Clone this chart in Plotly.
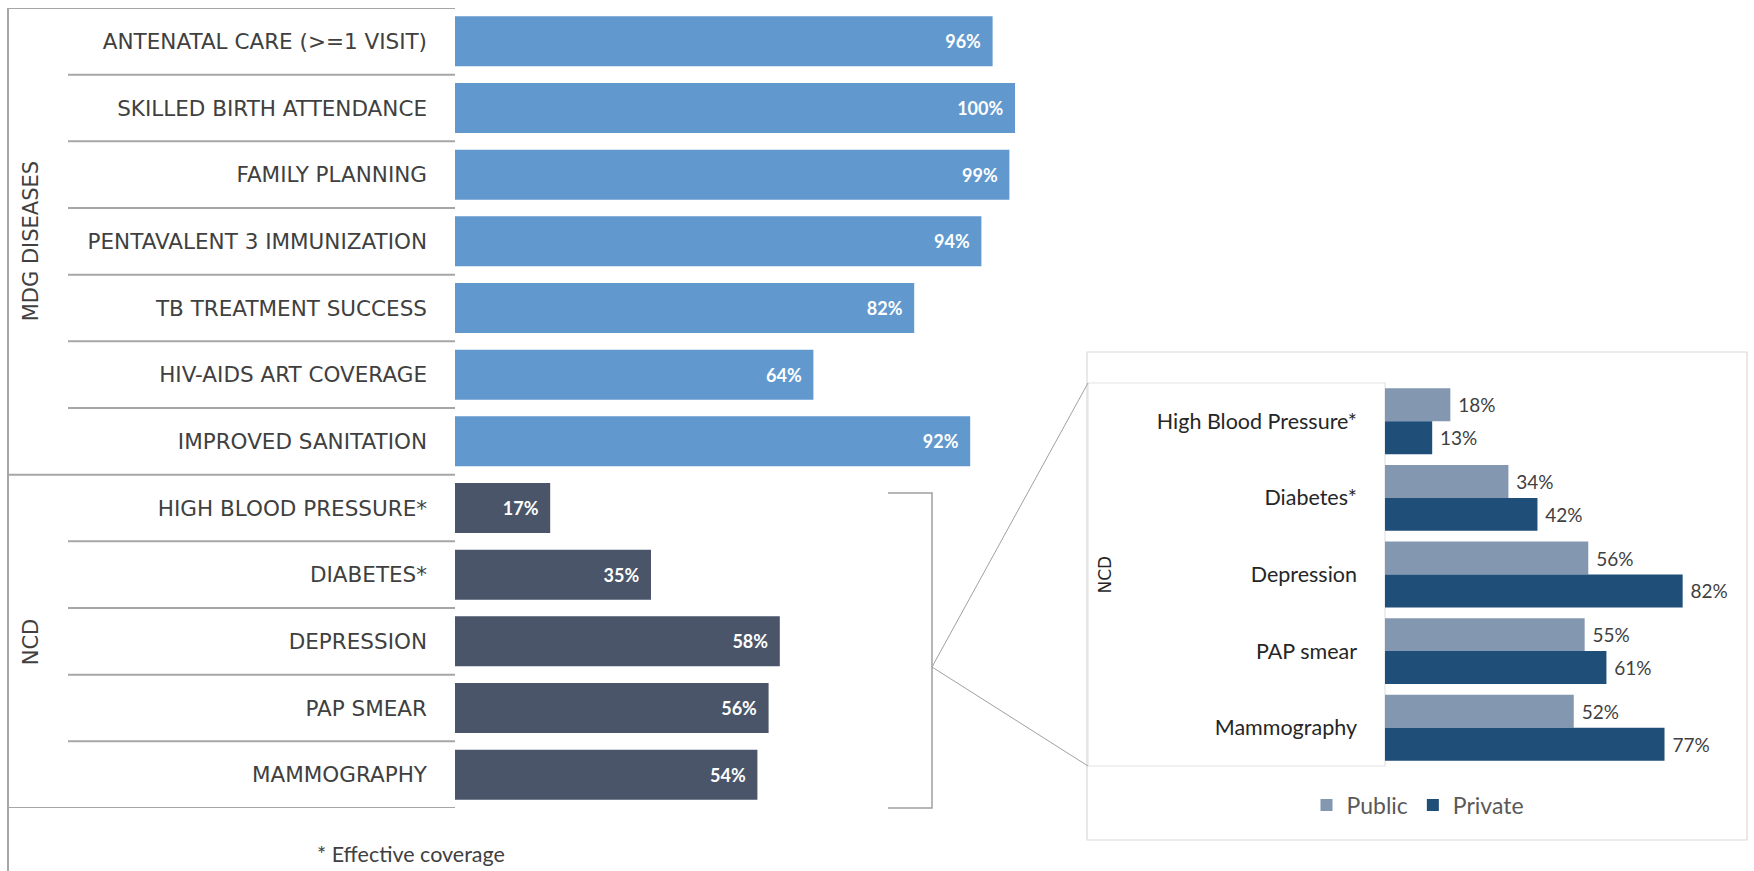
import plotly.graph_objects as go

W, H = 1754, 871

# ---------------- data ----------------
mdg_labels = ["ANTENATAL CARE (>=1 VISIT)", "SKILLED BIRTH ATTENDANCE", "FAMILY PLANNING",
              "PENTAVALENT 3 IMMUNIZATION", "TB TREATMENT SUCCESS", "HIV-AIDS ART COVERAGE",
              "IMPROVED SANITATION"]
mdg_values = [96, 100, 99, 94, 82, 64, 92]
ncd_labels = ["HIGH BLOOD PRESSURE*", "DIABETES*", "DEPRESSION", "PAP SMEAR", "MAMMOGRAPHY"]
ncd_values = [17, 35, 58, 56, 54]

inset_labels = ["High Blood Pressure*", "Diabetes*", "Depression", "PAP smear", "Mammography"]
public_values = [18, 34, 56, 55, 52]
private_values = [13, 42, 82, 61, 77]

group_names = ["MDG DISEASES", "NCD"]
footnote = "* Effective coverage"

# ---------------- style ----------------
FONT = "Lato"
FONT_CAPS = "DejaVu Sans"
C_MDG = "#6199CF"
C_NCD = "#4A5569"
C_PUB = "#8497B0"
C_PRI = "#1F4E79"
C_TXT = "#404040"
C_LINE = "#A6A6A6"
NB = "\u00a0"


def px(x):
    return x / W


def py(y):
    return 1 - y / H


all_labels = mdg_labels + ncd_labels
all_values = mdg_values + ncd_values
colors = [C_MDG] * len(mdg_labels) + [C_NCD] * len(ncd_labels)

fig = go.Figure()

fig.add_trace(go.Bar(
    orientation="h", y=all_labels, x=all_values, width=0.75,
    marker=dict(color=colors, line=dict(width=0)),
    text=[f"{v}%{NB}{NB}" for v in all_values], textposition="inside", insidetextanchor="end",
    textfont=dict(color="white", size=18, family=FONT, weight="bold"),
    xaxis="x", yaxis="y", showlegend=False, hoverinfo="skip", cliponaxis=False,
))

fig.add_trace(go.Bar(
    orientation="h", y=inset_labels, x=public_values, name="Public",
    width=0.43, offset=-0.43, marker=dict(color=C_PUB, line=dict(width=0)),
    text=[f"{NB}{v}%" for v in public_values], textposition="outside",
    textfont=dict(color=C_TXT, size=19, family=FONT),
    xaxis="x2", yaxis="y2", hoverinfo="skip", cliponaxis=False,
))
fig.add_trace(go.Bar(
    orientation="h", y=inset_labels, x=private_values, name="Private",
    width=0.43, offset=0, marker=dict(color=C_PRI, line=dict(width=0)),
    text=[f"{NB}{v}%" for v in private_values], textposition="outside",
    textfont=dict(color=C_TXT, size=19, family=FONT),
    xaxis="x2", yaxis="y2", hoverinfo="skip", cliponaxis=False,
))

n = len(all_labels)
m = len(inset_labels)

shapes = []
line_style = dict(color=C_LINE, width=2)
# main table frame
shapes.append(dict(type="line", xref="paper", yref="paper", x0=px(8), x1=px(8), y0=py(8), y1=0, line=line_style))
shapes.append(dict(type="line", xref="paper", yref="y", x0=px(8), x1=px(455), y0=-0.5, y1=-0.5, line=line_style))
shapes.append(dict(type="line", xref="paper", yref="y", x0=px(8), x1=px(455), y0=n - 0.5, y1=n - 0.5, line=line_style))
shapes.append(dict(type="line", xref="paper", yref="y", x0=px(8), x1=px(455),
                   y0=len(mdg_labels) - 0.5, y1=len(mdg_labels) - 0.5, line=line_style))
for i in list(range(len(mdg_labels) - 1)) + list(range(len(mdg_labels), n - 1)):
    shapes.append(dict(type="line", xref="paper", yref="y", x0=px(68), x1=px(455),
                       y0=i + 0.5, y1=i + 0.5, line=line_style))

# bracket
shapes.append(dict(type="path", xref="paper", yref="paper",
                   path=f"M {px(888)},{py(493)} L {px(932)},{py(493)} L {px(932)},{py(808)} L {px(888)},{py(808)}",
                   line=dict(color="#A0A0A0", width=1.5)))
# connectors
shapes.append(dict(type="line", xref="paper", yref="paper", x0=px(932), y0=py(667), x1=px(1088), y1=py(383),
                   line=dict(color="#A0A0A0", width=1)))
shapes.append(dict(type="line", xref="paper", yref="paper", x0=px(932), y0=py(667), x1=px(1088), y1=py(766),
                   line=dict(color="#A0A0A0", width=1)))
# inset outer box
shapes.append(dict(type="rect", xref="paper", yref="paper", x0=px(1087), x1=px(1747), y0=py(840), y1=py(352),
                   line=dict(color="#D9D9D9", width=1.2), layer="below"))
# inset label box
shapes.append(dict(type="rect", xref="paper", yref="paper", x0=px(1088), x1=px(1385), y0=py(766), y1=py(383),
                   line=dict(color="#E3E3E3", width=1.2), layer="below"))

annotations = [
    dict(text=group_names[0], xref="paper", yref="y", x=px(31), y=(len(mdg_labels) - 1) / 2,
         xanchor="center", yanchor="middle",
         textangle=-90, showarrow=False, font=dict(family=FONT_CAPS, size=21, color=C_TXT)),
    dict(text=group_names[1], xref="paper", yref="y", x=px(31), y=(len(mdg_labels) + n - 1) / 2,
         xanchor="center", yanchor="middle",
         textangle=-90, showarrow=False, font=dict(family=FONT_CAPS, size=21, color=C_TXT)),
    dict(text=group_names[1], xref="paper", yref="y2", x=px(1104), y=(m - 1) / 2,
         xanchor="center", yanchor="middle",
         textangle=-90, showarrow=False, font=dict(family=FONT_CAPS, size=17, color="#262626")),
    dict(text=footnote, xref="paper", yref="paper", x=px(411), y=py(854),
         xanchor="center", yanchor="middle",
         showarrow=False, font=dict(family=FONT, size=21.5, color=C_TXT)),
]

fig.update_layout(
    width=W, height=H, autosize=False,
    margin=dict(l=0, r=0, t=0, b=0),
    paper_bgcolor="white", plot_bgcolor="rgba(0,0,0,0)",
    barmode="overlay",
    font=dict(family=FONT, color=C_TXT),
    xaxis=dict(domain=[px(455), px(1071)], range=[0, 110], visible=False, fixedrange=True),
    yaxis=dict(domain=[py(808), py(8)], type="category", categoryorder="array", categoryarray=all_labels,
               range=[n - 0.5, -0.5], showgrid=False, zeroline=False, showline=False, ticks="",
               ticklabelstandoff=27, tickfont=dict(family=FONT_CAPS, size=21.5, color=C_TXT)),
    xaxis2=dict(domain=[px(1385), px(1748)], range=[0, 100], visible=False, anchor="y2"),
    yaxis2=dict(domain=[py(766), py(383)], type="category", categoryorder="array", categoryarray=inset_labels,
                range=[m - 0.5, -0.5], showgrid=False, zeroline=False, showline=False, ticks="",
                anchor="x2", ticklabelstandoff=27, tickfont=dict(family=FONT, size=21.5, color="#262626")),
    legend=dict(orientation="h", x=px(1418), xanchor="center", y=py(805), yanchor="middle",
                font=dict(family=FONT, size=23, color="#595959"), bgcolor="rgba(0,0,0,0)",
                itemwidth=30),
    shapes=shapes, annotations=annotations,
)

fig.write_html("out.html")
